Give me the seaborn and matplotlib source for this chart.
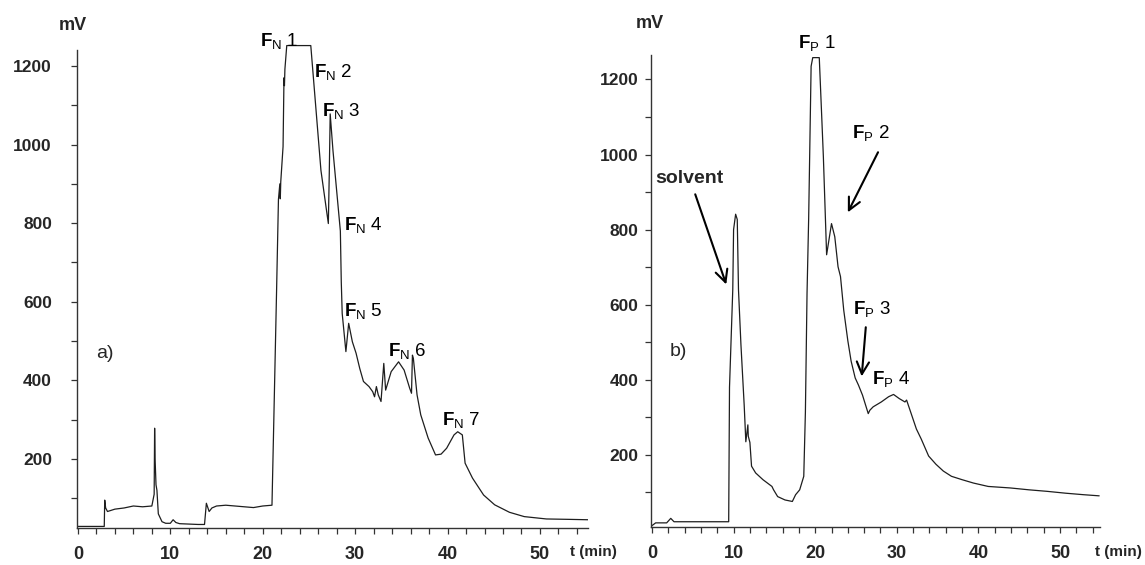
import matplotlib
matplotlib.use("Agg")
import matplotlib.pyplot as plt
import seaborn as sns
import pandas as pd
from matplotlib.ticker import MultipleLocator

# ---------------- data ----------------
# panel a) chromatogram (time in min, signal in mV)
time_a = [0, 2.85, 2.9, 3.0, 3.2, 4, 5, 6, 7, 8.0, 8.25, 8.3, 8.35, 8.45, 8.55, 8.7,
          9.1, 9.5, 10.0, 10.3, 10.6, 11, 12, 13, 13.7, 13.8, 13.9, 14.2, 14.5, 15,
          16, 17, 18, 19, 20, 21.0, 21.2, 21.5, 21.7, 21.85, 21.9, 21.95, 22.2, 22.3,
          22.35, 22.4, 22.6, 25.2, 26.3, 27.1, 27.2, 27.3, 27.6, 28.4, 28.5, 28.6,
          29.0, 29.3, 29.7, 30.1, 30.5, 30.9, 31.5, 31.9, 32.1, 32.3, 32.5, 32.8,
          33.1, 33.3, 33.9, 34.7, 35.3, 35.9, 36.1, 36.2, 36.3, 36.7, 37.1, 37.9,
          38.7, 39.3, 39.9, 40.7, 41.1, 41.6, 41.9, 42.7, 43.9, 45.1, 46.7, 48.3,
          50.7, 53.1, 55.2]
signal_a = [28, 28, 95, 75, 66, 72, 75, 80, 78, 80, 110, 278, 200, 134, 120, 60,
            40, 36, 36, 45, 38, 35, 34, 33, 33, 60, 87, 66, 75, 80,
            82, 80, 78, 76, 80, 82, 300, 630, 860, 900, 862, 905, 995, 1170,
            1150, 1192, 1252, 1252, 934, 799, 926, 1078, 985, 780, 650, 570,
            473, 545, 498, 469, 430, 397, 384, 371, 358, 384, 363, 346,
            443, 375, 422, 447, 426, 380, 367, 464, 456, 363, 312, 253,
            210, 212, 227, 261, 269, 261, 189, 151, 108, 83, 64, 53,
            47, 46, 45]

# panel b) chromatogram
time_b = [-0.1, 0.45, 1.8, 2.3, 2.7, 5, 9.4, 9.5, 9.9, 10.0, 10.25, 10.45, 10.6,
          10.9, 11.3, 11.5, 11.75, 11.8, 12.0, 12.2, 12.7, 13.6, 14.7, 14.9, 15.4,
          16.3, 17.2, 17.6, 18.1, 18.6, 18.8, 19.0, 19.2, 19.5, 19.7, 20.5, 20.8,
          21.0, 21.4, 22.0, 22.4, 22.8, 23.1, 23.5, 24.0, 24.4, 24.9, 25.3, 25.8,
          26.5, 26.7, 27.1, 28.1, 29.0, 29.6, 30.3, 31.0, 31.2, 31.7, 32.4, 33.0,
          33.9, 34.8, 35.7, 36.7, 38.0, 39.4, 41.2, 43.9, 46.2, 48.4, 50.7, 52.9, 54.8]
signal_b = [10, 19, 19, 31, 22, 22, 22, 380, 640, 800, 841, 827, 640,
            494, 332, 235, 280, 250, 233, 170, 152, 134, 116, 107, 89,
            80, 76, 94, 107, 143, 314, 630, 830, 1235, 1258, 1258, 1101,
            995, 733, 816, 781, 701, 675, 585, 504, 450, 405, 386, 359,
            310, 319, 328, 341, 355, 361, 350, 341, 346, 314, 269, 242,
            197, 175, 157, 143, 134, 125, 116, 112, 107, 103, 98, 94, 91]

x_ticks = [0, 10, 20, 30, 40, 50]
y_ticks = [200, 400, 600, 800, 1000, 1200]

# annotations: (subscript, number, t, mV)
labels_a = [("N", "1", 19.7, 1252), ("N", "2", 25.6, 1171), ("N", "3", 26.4, 1072),
            ("N", "4", 28.8, 783), ("N", "5", 28.8, 564), ("N", "6", 33.6, 463),
            ("N", "7", 39.4, 286)]
labels_b = [("P", "1", 17.9, 1283), ("P", "2", 24.5, 1043), ("P", "3", 24.6, 574),
            ("P", "4", 26.9, 388)]
# arrows in panel b: (start t, start mV, tip t, tip mV)
arrows_b = [(5.3, 894, 9.1, 654), (27.7, 1006, 24.0, 846), (26.2, 540, 25.7, 409)]

# ---------------- style ----------------
sns.set_theme(style="ticks")
plt.rcParams["font.family"] = ["Liberation Sans", "DejaVu Sans"]
plt.rcParams["mathtext.fontset"] = "custom"
plt.rcParams["mathtext.rm"] = "Liberation Sans"
plt.rcParams["mathtext.bf"] = "Liberation Sans:bold"
plt.rcParams["mathtext.it"] = "Liberation Sans:italic"

W, H = 1145, 565
fig = plt.figure(figsize=(W / 100, H / 100), dpi=100)
fig.patch.set_facecolor("white")

axA = fig.add_axes([77 / W, 1 - 528 / H, (588 - 77) / W, (528 - 44) / H])
axB = fig.add_axes([651 / W, 1 - 527 / H, (1100 - 651) / W, (527 - 55) / H])

dfA = pd.DataFrame({"t": time_a, "mV": signal_a})
dfB = pd.DataFrame({"t": time_b, "mV": signal_b})

line_color = "#1e1e1e"
sns.lineplot(data=dfA, x="t", y="mV", ax=axA, color=line_color, lw=0.9,
             estimator=None, sort=False)
sns.lineplot(data=dfB, x="t", y="mV", ax=axB, color=line_color, lw=0.9,
             estimator=None, sort=False)

axA.set_xlim(-0.1, 55.2)
axA.set_ylim(24, 1256)
axB.set_xlim(-0.12, 54.9)
axB.set_ylim(8, 1265)

for ax, ypad in ((axA, 14), (axB, 5)):
    ax.set_xlabel("")
    ax.set_ylabel("")
    ax.spines["top"].set_visible(False)
    ax.spines["right"].set_visible(False)
    for s in ("left", "bottom"):
        ax.spines[s].set_color("#333333")
        ax.spines[s].set_linewidth(1.0)
    ax.set_xticks(x_ticks)
    ax.set_xticklabels([str(v) for v in x_ticks], fontweight="bold", fontsize=13)
    ax.set_yticks(y_ticks)
    ax.set_yticklabels([str(v) for v in y_ticks], fontweight="bold", fontsize=12.5)
    ax.xaxis.set_minor_locator(MultipleLocator(2))
    ax.yaxis.set_minor_locator(MultipleLocator(100))
    ax.tick_params(axis="both", which="both", direction="out", length=4,
                   width=0.9, color="#333333")
    ax.tick_params(axis="x", which="major", pad=9)
    ax.tick_params(axis="y", which="major", pad=ypad)
    ax.grid(False)

axA.spines["left"].set_bounds(24, 1240)

ann_fs = 13.5
for sub, num, t, v in labels_a:
    axA.text(t, v, r"$\mathbf{F}_{\mathrm{" + sub + "}}$ " + num, fontsize=ann_fs,
             ha="left", va="baseline", color="black")
for sub, num, t, v in labels_b:
    axB.text(t, v, r"$\mathbf{F}_{\mathrm{" + sub + "}}$ " + num, fontsize=ann_fs,
             ha="left", va="baseline", color="black", clip_on=False)

axA.text(2.0, 456, "a)", fontsize=14, ha="left", va="baseline")
axB.text(2.2, 463, "b)", fontsize=14, ha="left", va="baseline")
axB.text(0.4, 923, "solvent", fontsize=14, fontweight="bold", ha="left", va="baseline")

for t0, v0, t1, v1 in arrows_b:
    axB.annotate("", xy=(t1, v1), xytext=(t0, v0),
                 arrowprops=dict(arrowstyle="->", lw=1.5, color="black",
                                 mutation_scale=22, shrinkA=0, shrinkB=0))

fig.text(73 / W, 1 - 25 / H, "mV", fontsize=13, fontweight="bold", ha="center", va="center")
fig.text(650 / W, 1 - 24 / H, "mV", fontsize=13, fontweight="bold", ha="center", va="center")
fig.text(570 / W, 1 - 552 / H, "t (min)", fontsize=11, fontweight="bold", ha="left", va="center")
fig.text(1095 / W, 1 - 552 / H, "t (min)", fontsize=11, fontweight="bold", ha="left", va="center")

fig.savefig("out.png", dpi=100, facecolor="white")
